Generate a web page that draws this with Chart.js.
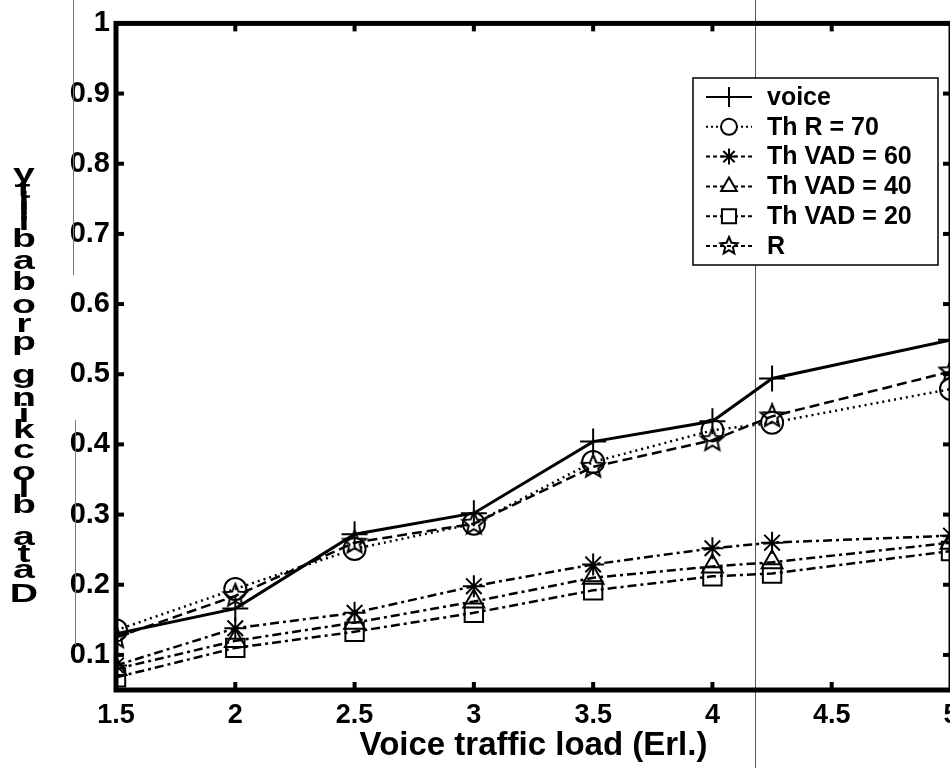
<!DOCTYPE html>
<html><head><meta charset="utf-8">
<script src="https://cdn.jsdelivr.net/npm/chart.js@4.4.1/dist/chart.umd.min.js"></script>
<style>
html,body{margin:0;padding:0;background:#fff;overflow:hidden;width:950px;height:768px;}
#wrap{position:absolute;left:0;top:0;width:1000px;height:768px;}
</style></head><body>
<div id="wrap"><canvas id="c"></canvas></div>
<script>
// ---- data ----
const loads   = [1.5, 2, 2.5, 3, 3.5, 4, 4.25, 5];
const voice   = [0.130, 0.166, 0.272, 0.302, 0.404, 0.433, 0.494, 0.549];
const thR70   = [0.135, 0.194, 0.251, 0.287, 0.375, 0.420, 0.431, 0.479];
const vad60   = [0.085, 0.138, 0.160, 0.198, 0.229, 0.252, 0.260, 0.270];
const vad40   = [0.080, 0.120, 0.146, 0.176, 0.210, 0.226, 0.232, 0.260];
const vad20   = [0.068, 0.110, 0.133, 0.160, 0.192, 0.212, 0.216, 0.248];
const rSeries = [0.125, 0.184, 0.260, 0.287, 0.368, 0.406, 0.440, 0.504];
const seriesLabels = ['voice', 'Th R = 70', 'Th VAD = 60', 'Th VAD = 40', 'Th VAD = 20', 'R'];
const xTicks = [1.5, 2, 2.5, 3, 3.5, 4, 4.5, 5];
const yTicks = [0.1, 0.2, 0.3, 0.4, 0.5, 0.6, 0.7, 0.8, 0.9, 1];
const xTitle = 'Voice traffic load (Erl.)';
const yTitle = 'Data blocking probability';

const FONT = "'Liberation Sans', Arial, Helvetica, sans-serif";

function makeStar(r) {
  const s = Math.ceil(r * 2 + 4);
  const c = document.createElement('canvas');
  c.width = s; c.height = s;
  const g = c.getContext('2d');
  g.strokeStyle = '#000'; g.lineWidth = 2; g.lineJoin = 'miter';
  g.beginPath();
  for (let i = 0; i < 10; i++) {
    const a = -Math.PI / 2 + i * Math.PI / 5;
    const rr = i % 2 ? r * 0.45 : r;
    const x = s / 2 + rr * Math.cos(a), y = s / 2 + rr * Math.sin(a);
    if (i) g.lineTo(x, y); else g.moveTo(x, y);
  }
  g.closePath(); g.stroke();
  return c;
}
const starImg = makeStar(12);
const starImgSmall = makeStar(9);

function ds(label, data, style, dash, width, pr) {
  return {
    label, data: loads.map((x, i) => ({x, y: data[i]})),
    borderColor: '#000', borderWidth: width, borderDash: dash,
    pointStyle: style, pointRadius: pr, pointHoverRadius: pr,
    pointBorderColor: '#000', pointBackgroundColor: 'rgba(0,0,0,0)',
    pointBorderWidth: 2, tension: 0, fill: false
  };
}
const DOT = [2, 4], DASHDOT = [9, 4, 3, 4], DASH = [10, 5];
const datasets = [
  ds(seriesLabels[0], voice, 'cross', [], 3, 13),
  ds(seriesLabels[1], thR70, 'circle', DOT, 2.5, 11),
  ds(seriesLabels[2], vad60, 'star', DASHDOT, 2.5, 11),
  ds(seriesLabels[3], vad40, 'triangle', DASHDOT, 2.5, 12),
  ds(seriesLabels[4], vad20, 'rect', DASHDOT, 2.5, 13),
  ds(seriesLabels[5], rSeries, starImg, DASH, 2.5, 12)
];

// frame with inward ticks on all four sides
const framePlugin = {
  id: 'frame',
  afterDatasetsDraw(chart) {
    const {ctx, chartArea: a, scales} = chart;
    ctx.save();
    ctx.strokeStyle = '#000'; ctx.setLineDash([]);
    ctx.lineWidth = 4;
    xTicks.forEach(v => {
      const x = scales.x.getPixelForValue(v);
      ctx.beginPath(); ctx.moveTo(x, a.bottom); ctx.lineTo(x, a.bottom - 8); ctx.stroke();
      ctx.beginPath(); ctx.moveTo(x, a.top); ctx.lineTo(x, a.top + 8); ctx.stroke();
    });
    yTicks.forEach(v => {
      const y = scales.y.getPixelForValue(v);
      ctx.beginPath(); ctx.moveTo(a.left, y); ctx.lineTo(a.left + 8, y); ctx.stroke();
      ctx.beginPath(); ctx.moveTo(a.right, y); ctx.lineTo(a.right - 8, y); ctx.stroke();
    });
    ctx.lineWidth = 5;
    ctx.strokeRect(a.left, a.top, a.right - a.left, a.bottom - a.top);
    ctx.restore();
  }
};

// legend box in the upper right of the plot
const legendPlugin = {
  id: 'boxLegend',
  afterDraw(chart) {
    const {ctx} = chart;
    const bx = 693, by = 78, bw = 245, bh = 187;
    ctx.save();
    ctx.fillStyle = '#fff'; ctx.fillRect(bx, by, bw, bh);
    ctx.strokeStyle = '#000'; ctx.lineWidth = 1.5; ctx.setLineDash([]);
    ctx.strokeRect(bx, by, bw, bh);
    const small = {cross: 10, circle: 8, star: 8, triangle: 9, rect: 10};
    chart.data.datasets.forEach((d, i) => {
      const y = by + 19 + i * 29.8;
      ctx.strokeStyle = '#000'; ctx.lineWidth = 2;
      ctx.setLineDash(d.borderDash.length ? [4, 3] : []);
      if (d.borderDash === DOT) ctx.setLineDash([2, 3]);
      ctx.beginPath(); ctx.moveTo(706, y); ctx.lineTo(752, y); ctx.stroke();
      ctx.setLineDash([]);
      ctx.fillStyle = '#fff';
      const st = typeof d.pointStyle === 'string' ? d.pointStyle : starImgSmall;
      const r = typeof d.pointStyle === 'string' ? small[d.pointStyle] : 9;
      Chart.helpers.drawPoint(ctx, {pointStyle: st, radius: r, rotation: 0, borderWidth: 2}, 729, y);
      ctx.fillStyle = '#000';
      ctx.font = 'bold 25px ' + FONT;
      ctx.textBaseline = 'middle'; ctx.textAlign = 'left';
      ctx.fillText(d.label, 767, y + 1);
    });
    ctx.restore();
  }
};

// y-axis label: upright letters stacked bottom-to-top
const yLabelPlugin = {
  id: 'yLabel',
  afterDraw(chart) {
    const {ctx} = chart;
    ctx.save();
    ctx.font = 'bold 28px ' + FONT;
    ctx.fillStyle = '#000'; ctx.textAlign = 'center'; ctx.textBaseline = 'middle';
    const chars = yTitle.split('');
    const w = chars.map(c => ctx.measureText(c).width);
    const total = w.reduce((s, v) => s + v, 0) - w[0] / 2 - w[w.length - 1] / 2;
    const bottom = 595, top = 175, k = (bottom - top) / total;
    let acc = 0;
    chars.forEach((c, i) => {
      if (i > 0) acc += (w[i - 1] + w[i]) / 2;
      const y = bottom - acc * k;
      ctx.save(); ctx.translate(24, y); ctx.scale(1.4, 0.9);
      ctx.fillText(c, 0, 0);
      ctx.restore();
    });
    ctx.restore();
  }
};

// thin vertical scan lines of the original page
const scanPlugin = {
  id: 'scan',
  beforeDatasetsDraw(chart) {
    const {ctx} = chart;
    ctx.save(); ctx.setLineDash([]);
    ctx.strokeStyle = '#555'; ctx.lineWidth = 1;
    ctx.beginPath(); ctx.moveTo(755.5, 0); ctx.lineTo(755.5, 768); ctx.stroke();
    ctx.strokeStyle = '#777';
    ctx.beginPath(); ctx.moveTo(73.5, 0); ctx.lineTo(73.5, 275); ctx.stroke();
    ctx.beginPath(); ctx.moveTo(75.5, 420); ctx.lineTo(75.5, 645); ctx.stroke();
    ctx.restore();
  },
  afterDraw(chart) {
    const {ctx} = chart;
    ctx.save(); ctx.strokeStyle = '#555'; ctx.lineWidth = 1;
    ctx.beginPath(); ctx.moveTo(755.5, 60); ctx.lineTo(755.5, 280); ctx.stroke();
    ctx.restore();
  }
};

new Chart(document.getElementById('c'), {
  type: 'line',
  data: {datasets},
  options: {
    responsive: true, maintainAspectRatio: false, animation: false,
    layout: {padding: {top: 3, right: 49, bottom: 0, left: 0}},
    plugins: {legend: {display: false}, tooltip: {enabled: false}},
    scales: {
      x: {
        type: 'linear', min: 1.5, max: 5,
        afterBuildTicks: a => { a.ticks = xTicks.map(v => ({value: v})); },
        afterFit: s => { s.height = 78; },
        ticks: {font: {family: FONT, weight: 'bold', size: 27}, color: '#000', padding: 9,
                maxRotation: 0, autoSkip: false, callback: v => String(v)},
        grid: {display: false, drawTicks: false},
        border: {display: false},
        title: {display: true, text: xTitle, color: '#000',
                font: {family: FONT, weight: 'bold', size: 33}, padding: {top: 0, bottom: 2}}
      },
      y: {
        type: 'linear', min: 0.05, max: 1,
        afterBuildTicks: a => { a.ticks = yTicks.map(v => ({value: v})); },
        afterFit: s => { s.width = 116; },
        ticks: {font: {family: FONT, weight: 'bold', size: 29}, color: '#000', padding: 6,
                autoSkip: false, callback: v => String(Math.round(v * 10) / 10)},
        grid: {display: false, drawTicks: false},
        border: {display: false}
      }
    }
  },
  plugins: [scanPlugin, framePlugin, legendPlugin, yLabelPlugin]
});
</script>
</body></html>
